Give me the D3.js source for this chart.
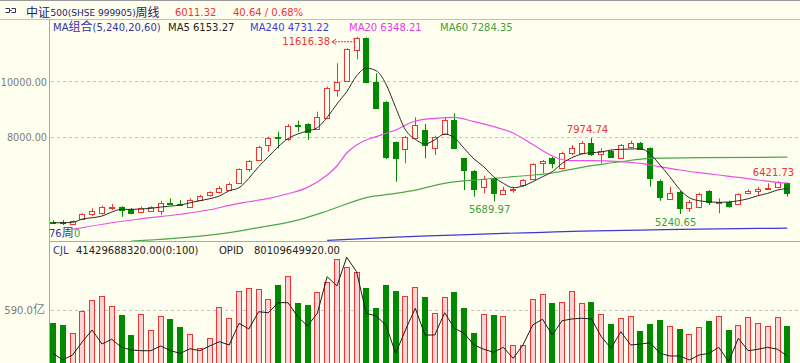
<!DOCTYPE html>
<html>
<head>
<meta charset="utf-8">
<style>
  body { margin: 0; background: #fffff0; }
  svg { display: block; font-family: 'DejaVu Sans', Verdana, sans-serif; font-size: 10px; }
  .cjk { font-family: 'Noto Sans CJK SC', sans-serif; font-size: 12px; }
</style>
</head>
<body>
<svg id="chart" width="800" height="363"></svg>
<script src="https://cdn.jsdelivr.net/npm/d3@7/dist/d3.min.js"></script>
<script>
  // weekly candles
  const open = [4960, 4950, 4879, 5059, 5228, 5264, 5466, 5502, 5419, 5322,
    5358, 5358, 5646, 5588, 5502, 5743, 5923, 6041, 6103, 6366,
    6848, 7183, 7723, 8000, 7928, 8443, 8468, 8288, 8684, 9703,
    10038, 11143, 11580, 9980, 9282, 7842, 7568, 7964, 8263, 7604,
    8119, 8623, 7244, 6787, 6200, 6546, 5959, 6092, 6283, 6488,
    7086, 7244, 6884, 7424, 7424, 7806, 7399, 7518, 7244, 7662,
    7784, 7604, 6438, 5779, 6041, 5444, 5480, 6067, 5624, 5682,
    5588, 6006, 6078, 6128, 6222, 6344]
  const high = [5020, 5020, 5010, 5270, 5444, 5545, 5599, 5520, 5455, 5502,
    5520, 5718, 5804, 5743, 5804, 5930, 6056, 6247, 6366, 6880,
    7183, 7700, 8022, 8202, 8468, 8598, 8504, 8922, 9822, 10664,
    11204, 11616.38, 11600, 10304, 9300, 7850, 8047, 8720, 8479, 8058,
    8720, 8864, 7260, 6823, 6618, 6560, 6222, 6222, 6499, 7064,
    7183, 7302, 7482, 7723, 7867, 7974.74, 7604, 7543, 7759, 7878,
    7831, 7640, 6488, 6222, 6067, 5743, 6006, 6103, 5804, 5718,
    5984, 6128, 6222, 6344, 6421.73, 6366]
  const low = [4880, 4843, 4870, 5040, 5167, 5221, 5383, 5141, 5228, 5264,
    5340, 5203, 5588, 5527, 5466, 5730, 5862, 5984, 6067, 6340,
    6762, 7160, 7482, 7604, 7867, 8202, 7903, 8263, 8648, 9462,
    10002, 10808, 9950, 9044, 7219, 6401, 7064, 7928, 7244, 7363,
    8083, 7579, 6103, 5862, 5984, 5689.97, 5923, 6006, 6222, 6463,
    6704, 6884, 6848, 7363, 7399, 7327, 7064, 7255, 7219, 7604,
    7561, 6222, 5718, 5768, 5240.65, 5322, 5444, 5563, 5264, 5466,
    5563, 5984, 5923, 6103, 6164, 5862]
  const close = [4925, 4905, 4998, 5250, 5347, 5480, 5502, 5383, 5286, 5444,
    5502, 5624, 5599, 5552, 5743, 5898, 6020, 6164, 6319, 6848,
    7147, 7662, 7964, 7964, 8418, 8407, 8202, 8742, 9786, 10002,
    11168, 11564, 9980, 9066, 7302, 7244, 8022, 8443, 7723, 8022,
    8623, 7604, 6823, 6128, 6488, 6006, 6103, 6150, 6463, 7039,
    7147, 7086, 7424, 7604, 7806, 7399, 7518, 7280, 7723, 7806,
    7579, 6524, 5862, 5984, 5444, 5682, 5959, 5682, 5671, 5527,
    5948, 6067, 6128, 6186, 6402, 6011.32]

  // volume (亿) and the OPID line drawn in the lower pane
  const volume = [450, 421, 340, 582, 700, 741, 631, 532, 318, 543,
    370, 521, 491, 399, 322, 171, 281, 620, 499, 796,
    833, 825, 711, 866, 965, 664, 642, 789, 899, 1156,
    1064, 1006, 833, 612, 866, 800, 745, 844, 733, 554,
    733, 789, 612, 340, 543, 532, 521, 201, 207, 715,
    767, 664, 678, 803, 664, 675, 543, 432, 499, 521,
    358, 439, 480, 410, 381, 329, 399, 472, 521, 370,
    421, 510, 450, 410, 510, 414.3]
  const opid = [112, 39, 94, 240, 370, 215, 267, 179, 149, 141,
    141, 193, 141, 112, 163, 141, 193, 240, 204, 443,
    381, 571, 560, 671, 671, 516, 414, 554, 957, 855,
    1171, 1013, 554, 524, 425, 112, 370, 609, 314, 314,
    560, 388, 333, 204, 157, 124, 179, 57, 204, 425,
    488, 314, 472, 491, 499, 491, 296, 168, 351, 204,
    215, 229, 112, 83, 83, 39, 94, 112, 179, 20,
    278, 141, 157, 179, 157, 83]

  // moving averages
  const ma5 = [4926, 4926, 4940, 5059, 5106, 5167, 5311, 5408, 5408, 5419,
    5444, 5491, 5527, 5563, 5646, 5718, 5790, 5887, 6078, 6186,
    6524, 6942, 7302, 7662, 7950, 8119, 8227, 8346, 8720, 9199,
    9642, 10207, 10484, 10398, 9920, 9070, 8270, 7930, 7760, 7910,
    8119, 7980, 7600, 7220, 6940, 6582, 6344, 6186, 6247, 6402,
    6582, 6762, 7064, 7266, 7399, 7446, 7471, 7543, 7568, 7579,
    7590, 7399, 7003, 6582, 6128, 5826, 5718, 5682, 5660, 5671,
    5718, 5790, 5898, 5984, 6103, 6153.27]
  const ma20 = [[2, 4688], [6, 4926], [9, 5066], [13, 5232], [16, 5393], [18, 5552],
    [20, 5681], [22, 5804], [24, 5970], [26, 6200], [28, 6643], [29, 6967], [30, 7435],
    [31, 7723], [32, 7903], [33, 8022], [35, 8263], [37, 8587], [39, 8684], [41, 8720],
    [43, 8561], [45, 8382], [47, 8155], [49, 7741], [51, 7327], [52, 7201], [53, 7158],
    [55, 7158], [58, 7122], [60, 7064], [62, 6942], [64, 6823], [66, 6726], [68, 6643],
    [70, 6560], [72, 6463], [75, 6348.21]]
  const ma60 = [[8, 4267], [12, 4357], [18, 4573], [21, 4753], [25, 5023], [28, 5347],
    [32, 5833], [35, 5984], [37, 6103], [40, 6344], [44, 6491], [47, 6582], [51, 6715],
    [54, 6920], [56, 7028], [58, 7122], [61, 7244], [66, 7266], [75, 7284.35]]
  const ma240 = [[28, 4292], [35, 4411], [40, 4471], [46, 4543], [50, 4583], [54, 4627],
    [60, 4663], [66, 4699], [72, 4721], [75, 4731.22]]

  const priceTicks = [10000, 8000]
  const volTicks = [590]

  const bg = '#fffff0', red = '#f03333', green = '#008a00', axisCol = '#a8a8a8'

  const svg = d3.select('#chart')

  const x = d3.scaleLinear().domain([0, 75]).range([53, 787.3])
  const y = d3.scaleLinear().domain([8000, 10000]).range([137.3, 81.7])
  const yv = d3.scaleLinear().domain([0, 590]).range([363.5, 310])

  svg.append('rect').attr('width', 800).attr('height', 363).attr('fill', bg)

  // frame
  const hline = (yy, x1, col) => svg.append('line').attr('x1', x1).attr('x2', 800)
    .attr('y1', yy).attr('y2', yy).attr('stroke', col)
  hline(0.5, 0, '#9a9a9a')
  hline(19.5, 0, '#c0c0c0')
  hline(241.5, 49, axisCol)
  svg.append('line').attr('x1', 49.5).attr('x2', 49.5).attr('y1', 19.5).attr('y2', 363)
    .attr('stroke', axisCol)

  // grid + tick labels
  svg.selectAll('.pgrid').data(priceTicks).join('line')
    .attr('x1', 51).attr('x2', 800)
    .attr('y1', d => Math.floor(y(d)) + 0.5).attr('y2', d => Math.floor(y(d)) + 0.5)
    .attr('stroke', '#c4c4c4').attr('stroke-dasharray', '3,3')
  svg.selectAll('.plab').data(priceTicks).join('text')
    .attr('x', 47).attr('y', d => y(d) + 3.8).attr('text-anchor', 'end')
    .attr('font-size', 9.7).attr('fill', '#7c7c7c').text(d => d.toFixed(2))

  svg.selectAll('.vgrid').data(volTicks).join('line')
    .attr('x1', 51).attr('x2', 800)
    .attr('y1', d => Math.floor(yv(d)) + 0.5).attr('y2', d => Math.floor(yv(d)) + 0.5)
    .attr('stroke', '#c4c4c4').attr('stroke-dasharray', '3,3')
  svg.selectAll('.vlab').data(volTicks).join('text')
    .attr('x', 45).attr('y', d => yv(d) + 3.8).attr('text-anchor', 'end')
    .attr('fill', '#7c7c7c')
    .call(t => {
      t.append('tspan').text(d => d.toFixed(1))
      t.append('tspan').attr('class', 'cjk').attr('font-size', 11).text('亿')
    })

  // header
  svg.append('path').attr('d', 'M5.5,8.5h4v4h-4 M11.5,8.5h4v4h-4 M9.5,10.5h2')
    .attr('fill', 'none').attr('stroke', '#303060')
  svg.append('text').attr('class', 'cjk').attr('x', 26).attr('y', 16.5)
    .attr('fill', '#20206a').text('中证')
  svg.append('text').attr('x', 50.5).attr('y', 16).attr('font-size', 9)
    .attr('fill', '#20206a').text('500(SHSE 999905)')
  svg.append('text').attr('class', 'cjk').attr('x', 135.5).attr('y', 16.5)
    .attr('fill', '#20206a').text('周线')
  svg.append('text').attr('x', 175).attr('y', 16).attr('fill', red).text('6011.32')
  svg.append('text').attr('x', 233).attr('y', 16).attr('fill', red).text('40.64 / 0.68%')

  // legend row
  const leg = svg.append('text').attr('x', 53).attr('y', 30.5).attr('fill', '#3434a4')
  leg.append('tspan').text('MA')
  leg.append('tspan').attr('class', 'cjk').text('组合')
  leg.append('tspan').text('(5,240,20,60)')
  svg.append('text').attr('x', 168).attr('y', 30.5).attr('fill', '#222').text('MA5 6153.27')
  svg.append('text').attr('x', 250).attr('y', 30.5).attr('fill', '#3c3cd8').text('MA240 4731.22')
  svg.append('text').attr('x', 349).attr('y', 30.5).attr('fill', '#e838e8').text('MA20 6348.21')
  svg.append('text').attr('x', 440).attr('y', 30.5).attr('fill', '#3ea03e').text('MA60 7284.35')

  // main pane
  svg.append('clipPath').attr('id', 'clipMain').append('rect')
    .attr('x', 50).attr('y', 20).attr('width', 750).attr('height', 221)
  const main = svg.append('g').attr('clip-path', 'url(#clipMain)')

  const bars = d3.range(open.length).map(i => ({
    i, o: open[i], h: high[i], l: low[i], c: close[i], v: volume[i], up: close[i] >= open[i]
  }))

  const candle = main.selectAll('.candle').data(bars).join('g')
  candle.append('line')
    .attr('x1', d => Math.round(x(d.i)) + 0.5).attr('x2', d => Math.round(x(d.i)) + 0.5)
    .attr('y1', d => y(d.h)).attr('y2', d => y(d.l))
    .attr('stroke', d => d.up ? red : green)
  candle.each(function (d) {
    const g = d3.select(this)
    const cx = Math.round(x(d.i))
    const top = Math.round(y(Math.max(d.o, d.c)))
    const bot = Math.round(y(Math.min(d.o, d.c)))
    if (bot - top < 1) {
      g.append('line').attr('x1', cx - 3).attr('x2', cx + 3)
        .attr('y1', top + 0.5).attr('y2', top + 0.5).attr('stroke', d.up ? red : green)
    } else if (d.up) {
      g.append('rect').attr('x', cx - 2.5).attr('y', top + 0.5)
        .attr('width', 5).attr('height', bot - top)
        .attr('fill', bg).attr('stroke', red)
    } else {
      g.append('rect').attr('x', cx - 3).attr('y', top)
        .attr('width', 6).attr('height', bot - top + 1).attr('fill', green)
    }
  })

  const line = d3.line().x(d => x(d[0])).y(d => y(d[1])).curve(d3.curveMonotoneX)
  const drawMa = (pts, col, w) => main.append('path').attr('d', line(pts))
    .attr('fill', 'none').attr('stroke', col).attr('stroke-width', w)
  drawMa(ma240, '#3a3ad0', 1.2)
  drawMa(ma60, '#4aa84a', 1.2)
  drawMa(ma20, '#ee4ee8', 1.2)
  drawMa(ma5.map((v, i) => [i, v]), '#2a2a2a', 1)

  // extreme labels
  const iMax = high.indexOf(d3.max(high))
  const xm = Math.round(x(iMax)), ym = y(high[iMax])
  svg.append('text').attr('x', xm - 27).attr('y', ym + 8.5).attr('text-anchor', 'end')
    .attr('fill', red).text(high[iMax].toFixed(2))
  svg.append('path')
    .attr('d', `M${xm - 25},${ym + 5}H${xm - 3}V${ym + 1}`)
    .attr('fill', 'none').attr('stroke', red).attr('stroke-dasharray', '2,1')
  svg.append('path')
    .attr('d', `M${xm - 21},${ym + 2.5}L${xm - 25},${ym + 5}L${xm - 21},${ym + 7.5}`)
    .attr('fill', 'none').attr('stroke', red)

  const topMarks = [55, 74], lowMarks = [45, 64]
  svg.selectAll('.hilab').data(topMarks).join('text')
    .attr('x', i => x(i) - 4).attr('y', i => y(high[i]) - 5).attr('text-anchor', 'middle')
    .attr('fill', red).text(i => high[i].toFixed(2))
  svg.selectAll('.lolab').data(lowMarks).join('text')
    .attr('x', i => x(i) - 4).attr('y', i => y(low[i]) + 11.5).attr('text-anchor', 'middle')
    .attr('fill', '#3ea03e').text(i => low[i].toFixed(2))

  // bar count label at bottom-left (a green price label peeks out behind it)
  const cnt = svg.append('text').attr('x', 49).attr('y', 236.5).attr('fill', '#3535a0')
  cnt.append('tspan').text(open.length)
  cnt.append('tspan').attr('class', 'cjk').text('周')
  svg.append('text').attr('x', 74).attr('y', 236.5).attr('fill', '#3ea03e').text('0')

  // volume pane
  svg.append('text').attr('x', 53).attr('y', 254).attr('fill', '#3434a4').text('CJL')
  svg.append('text').attr('x', 76).attr('y', 254).attr('fill', '#222').text('41429688320.00(0:100)')
  svg.append('text').attr('x', 219).attr('y', 254).attr('fill', '#222').text('OPID')
  svg.append('text').attr('x', 254).attr('y', 254).attr('fill', '#222').text('80109649920.00')

  const vol = svg.append('g')
  vol.selectAll('rect').data(bars).join('rect')
    .attr('x', d => Math.round(x(d.i)) - (d.up ? 2.5 : 3))
    .attr('y', d => Math.round(yv(d.v)) + (d.up ? 0.5 : 0))
    .attr('width', d => d.up ? 5 : 6)
    .attr('height', d => 364 - Math.round(yv(d.v)))
    .attr('fill', d => d.up ? '#fbd4d4' : green)
    .attr('stroke', d => d.up ? red : 'none')

  vol.append('path')
    .attr('d', d3.line().x((d, i) => x(i)).y(d => yv(d))(opid))
    .attr('fill', 'none').attr('stroke', '#1a1a1a').attr('stroke-width', 1)
</script>
</body>
</html>
